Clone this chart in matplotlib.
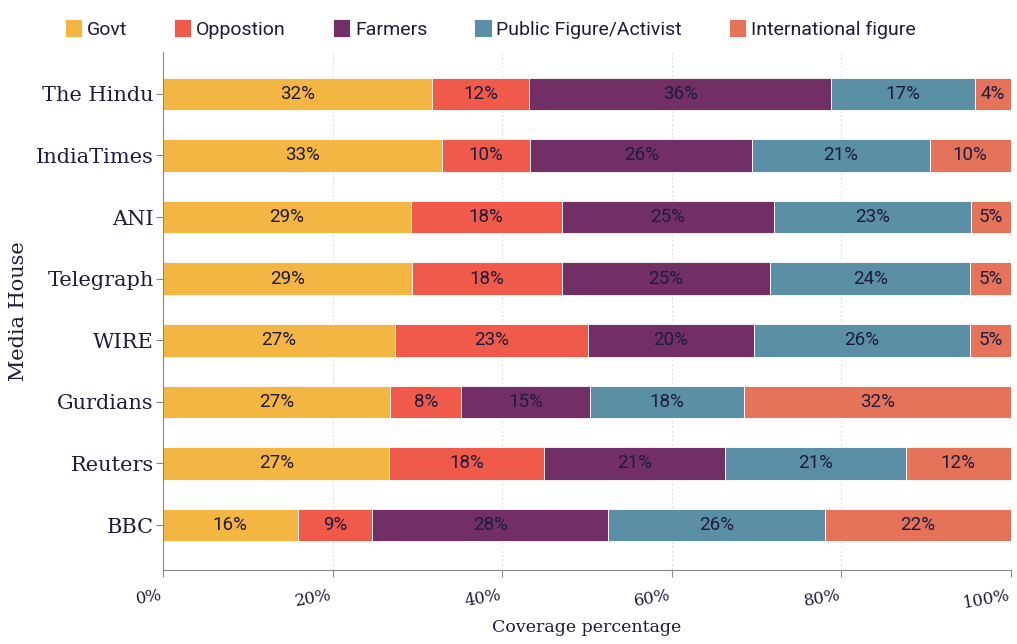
import matplotlib.pyplot as plt
import numpy as np
from matplotlib.ticker import FuncFormatter

houses = ["The Hindu", "IndiaTimes", "ANI", "Telegraph", "WIRE", "Gurdians", "Reuters", "BBC"]
groups = ["Govt", "Oppostion", "Farmers", "Public Figure/Activist", "International figure"]
colors = ["#f4b642", "#ef5a4a", "#722f66", "#5a8fa5", "#e5735a"]

govt = [31.7, 32.9, 29.2, 29.4, 27.4, 26.8, 26.7, 15.9]
oppostion = [11.5, 10.4, 17.8, 17.6, 22.7, 8.4, 18.2, 8.8]
farmers = [35.6, 26.2, 25.1, 24.6, 19.6, 15.1, 21.4, 27.8]
public = [17.0, 20.9, 23.2, 23.6, 25.5, 18.2, 21.3, 25.6]
intl = [4.2, 9.6, 4.7, 4.8, 4.8, 31.5, 12.4, 21.9]

series = [govt, oppostion, farmers, public, intl]
text_col = "#1f1b3d"
serif = "DejaVu Serif"

fig = plt.figure(figsize=(10.17, 6.44), dpi=100)
ax = fig.add_axes([163/1017, 1-570/644, 848/1017, 518/644])

y = np.arange(len(houses))
left = np.zeros(len(houses))
for name, vals, c in zip(groups, series, colors):
    vals = np.array(vals)
    bars = ax.barh(y, vals, left=left, height=0.53, color=c, edgecolor="white",
                   linewidth=0.6, label=name)
    for b, v, l in zip(bars, vals, left):
        ax.text(l + v/2, b.get_y() + b.get_height()/2, f"{v:.0f}%", ha="center", va="center",
                fontsize=13.5, color=text_col, family="Roboto")
    left += vals

ax.set_xlim(0, 100)
ax.set_ylim(7.73, -0.68)
ax.set_yticks(y)
ax.set_yticklabels(houses, family=serif, fontsize=15, color=text_col)
ax.set_xticks(np.arange(0, 101, 20))
ax.xaxis.set_major_formatter(FuncFormatter(lambda v, p: f"{v:.0f}%"))
for t in ax.get_xticklabels():
    t.set_family(serif)
    t.set_fontsize(12)
    t.set_color(text_col)
    t.set_rotation(10)
    t.set_ha("right")
ax.tick_params(axis="x", length=5, color="#888888", pad=7)
ax.tick_params(axis="y", length=5, color="#888888", pad=1.5)
ax.grid(axis="x", color="#e0e0e0", linestyle=(0, (2, 2)), linewidth=0.8)
ax.set_axisbelow(True)
for s in ["top", "right"]:
    ax.spines[s].set_visible(False)
for s in ["left", "bottom"]:
    ax.spines[s].set_color("#888888")

ax.set_xlabel("Coverage percentage", family=serif, fontsize=12.5, color=text_col, labelpad=5)
ax.set_ylabel("Media House", family=serif, fontsize=15, color=text_col, labelpad=6)

fig.legend(loc="upper center", bbox_to_anchor=(0.482, 0.998), ncol=5, frameon=False,
           prop={"family": "Roboto", "size": 14}, handlelength=0.9, handleheight=1.1,
           columnspacing=2.4, handletextpad=0.25, labelcolor=text_col)

fig.savefig("out.png", dpi=100, facecolor="white")
